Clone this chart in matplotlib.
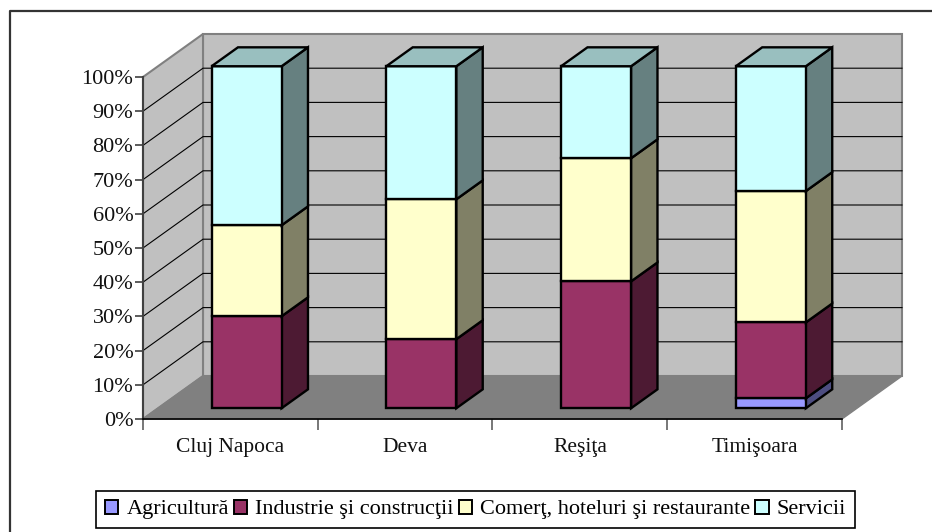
import matplotlib
matplotlib.use('Agg')
import matplotlib.pyplot as plt
from matplotlib.patches import Polygon, Patch
from matplotlib.lines import Line2D

plt.rcParams['font.family'] = ['Liberation Serif', 'DejaVu Serif']

cities = ['Cluj Napoca', 'Deva', 'Reşiţa', 'Timişoara']
agricultura = [0.0, 0.0, 0.0, 2.9]
industrie = [26.9, 20.2, 37.1, 22.2]
comert = [26.6, 40.9, 36.0, 38.4]
servicii = [46.5, 38.9, 26.9, 36.5]
series_names = ['Agricultură', 'Industrie şi construcţii', 'Comerţ, hoteluri şi restaurante', 'Servicii']
series_vals = [agricultura, industrie, comert, servicii]
series_cols = ['#9999FF', '#993366', '#FFFFCC', '#CCFFFF']
y_ticks = list(range(0, 101, 10))

W, H = 932, 532
DX, DY = 60 / 174.75, 43 / 3.42   # depth of the box in data units
BAR_W = 70 / 174.75
F0, F1 = 0.27, 0.71
Y_NUDGE = 0.25   # bars sit a bit lower than the depth alone gives


def shade(col, k):
    rgb = matplotlib.colors.to_rgb(col)
    return tuple(c * k for c in rgb)


def pt(x, y, d):
    return (x + d * DX, y + d * DY)


def bpt(x, y, d):
    return (x + d * DX, y + d * DY - Y_NUDGE)


fig = plt.figure(figsize=(W / 100, H / 100), dpi=100)
fig.patch.set_facecolor('white')
ax = fig.add_axes([143 / W, 1 - 419 / H, (842 - 143) / W, (419 - 77) / H])
ax.set_xlim(0, len(cities))
ax.set_ylim(0, 100)
ax.patch.set_visible(False)


def poly(pts, fc, ec='black', lw=1.0, z=2):
    ax.add_patch(Polygon(pts, closed=True, facecolor=fc, edgecolor=ec, linewidth=lw,
                         clip_on=False, zorder=z, joinstyle='miter'))


n = len(cities)
# walls and floor
poly([pt(0, 0, 1), pt(n, 0, 1), pt(n, 100, 1), pt(0, 100, 1)], '#C0C0C0', '#808080', 1.5, 1)
poly([pt(0, 0, 0), pt(0, 0, 1), pt(0, 100, 1), pt(0, 100, 0)], '#C0C0C0', '#808080', 1.5, 1)
poly([pt(0, 0, 0), pt(n, 0, 0), pt(n, 0, 1), pt(0, 0, 1)], '#808080', '#808080', 1.0, 1)

# grid
for v in y_ticks[1:-1]:
    ax.add_line(Line2D([0, DX, n + DX], [v, v + DY, v + DY], color='black', lw=0.8,
                       clip_on=False, zorder=1.5))

# bars
for i in range(n):
    x0 = i + (1 - BAR_W) / 2
    x1 = x0 + BAR_W
    bottom = 0
    top_col = None
    for vals, col in zip(series_vals, series_cols):
        v = vals[i]
        if v <= 0:
            continue
        t = bottom + v
        poly([bpt(x1, bottom, F0), bpt(x1, bottom, F1), bpt(x1, t, F1), bpt(x1, t, F0)],
             shade(col, 0.5), 'black', 1.7, 3)
        poly([bpt(x0, bottom, F0), bpt(x1, bottom, F0), bpt(x1, t, F0), bpt(x0, t, F0)],
             col, 'black', 1.7, 3)
        bottom = t
        top_col = col
    poly([bpt(x0, bottom, F0), bpt(x1, bottom, F0), bpt(x1, bottom, F1), bpt(x0, bottom, F1)],
         shade(top_col, 0.75), 'black', 1.7, 3)

# axes
for s in ['top', 'right']:
    ax.spines[s].set_visible(False)
ax.spines['left'].set_color('#404040')
ax.spines['left'].set_linewidth(1.5)
ax.spines['bottom'].set_color('black')
ax.spines['bottom'].set_linewidth(1.2)
for s in ['left', 'bottom']:
    ax.spines[s].set_zorder(4)
ax.set_yticks(y_ticks)
ax.set_yticklabels(['%d%%' % v for v in y_ticks], fontsize=16, color='#111111')
ax.set_xticks(range(n + 1))
ax.set_xticklabels([])
ax.set_xticks([i + 0.5 for i in range(n)], minor=True)
ax.set_xticklabels(cities, minor=True, fontsize=15.5, color='#111111')
ax.tick_params(axis='y', length=6, width=1.2, color='#404040', pad=1)
ax.tick_params(axis='x', which='major', length=8, width=1.2, color='#606060')
ax.tick_params(axis='x', which='minor', length=0, pad=14)

# outer border, only top and left show
fig.add_artist(Line2D([10 / W, 10 / W, 1], [0, 1 - 11 / H, 1 - 11 / H], color='#333333', lw=1.6))

handles = [Patch(facecolor=c, edgecolor='black', linewidth=1.4) for c in series_cols]
leg = fig.legend(handles, series_names, ncol=4, loc='center', fontsize=16,
                 bbox_to_anchor=(475.5 / W, 1 - 509.5 / H), fancybox=False, framealpha=1,
                 edgecolor='black', handlelength=0.6, handleheight=0.6, handletextpad=0.37,
                 columnspacing=0.22, borderpad=0.38, borderaxespad=0)
leg.get_frame().set_linewidth(1.2)

fig.savefig('out.png', dpi=100)
